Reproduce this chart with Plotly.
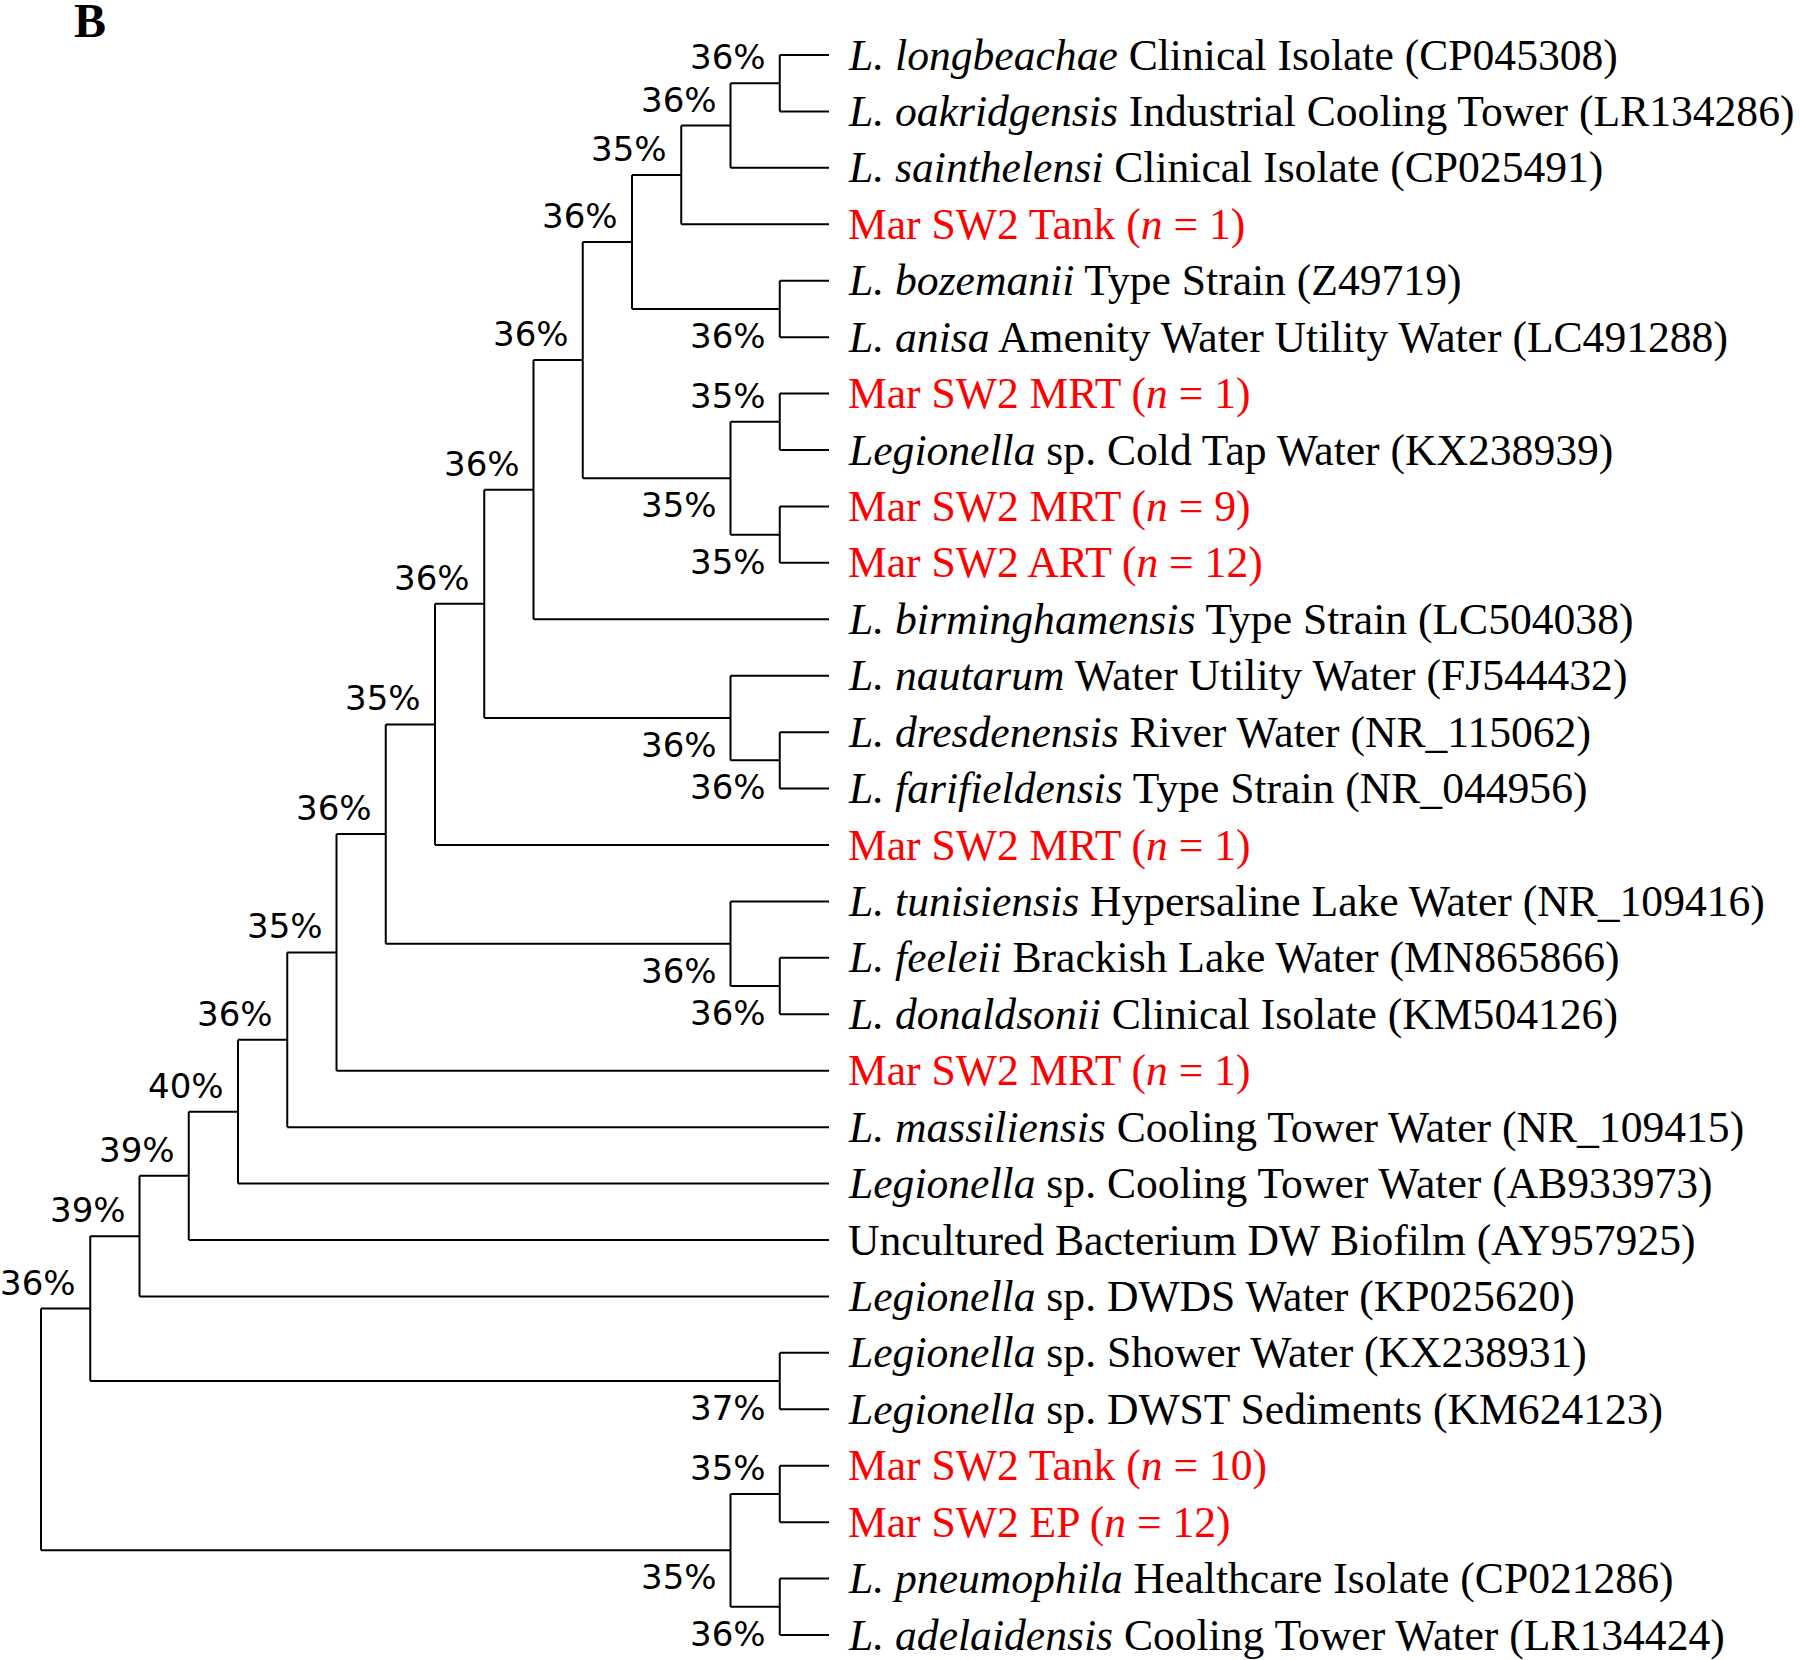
import plotly.graph_objects as go

# ---------------- data ----------------
leaf_labels = [
    "<i>L. longbeachae</i> Clinical Isolate (CP045308)",
    "<i>L. oakridgensis</i> Industrial Cooling Tower (LR134286)",
    "<i>L. sainthelensi</i> Clinical Isolate (CP025491)",
    "Mar SW2 Tank (<i>n</i> = 1)",
    "<i>L. bozemanii</i> Type Strain (Z49719)",
    "<i>L. anisa</i> Amenity Water Utility Water (LC491288)",
    "Mar SW2 MRT (<i>n</i> = 1)",
    "<i>Legionella</i> sp. Cold Tap Water (KX238939)",
    "Mar SW2 MRT (<i>n</i> = 9)",
    "Mar SW2 ART (<i>n</i> = 12)",
    "<i>L. birminghamensis</i> Type Strain (LC504038)",
    "<i>L. nautarum</i> Water Utility Water (FJ544432)",
    "<i>L. dresdenensis</i> River Water (NR_115062)",
    "<i>L. farifieldensis</i> Type Strain (NR_044956)",
    "Mar SW2 MRT (<i>n</i> = 1)",
    "<i>L. tunisiensis</i> Hypersaline Lake Water (NR_109416)",
    "<i>L. feeleii</i> Brackish Lake Water (MN865866)",
    "<i>L. donaldsonii</i> Clinical Isolate (KM504126)",
    "Mar SW2 MRT (<i>n</i> = 1)",
    "<i>L. massiliensis</i> Cooling Tower Water (NR_109415)",
    "<i>Legionella</i> sp. Cooling Tower Water (AB933973)",
    "Uncultured Bacterium DW Biofilm (AY957925)",
    "<i>Legionella</i> sp. DWDS Water (KP025620)",
    "<i>Legionella</i> sp. Shower Water (KX238931)",
    "<i>Legionella</i> sp. DWST Sediments (KM624123)",
    "Mar SW2 Tank (<i>n</i> = 10)",
    "Mar SW2 EP (<i>n</i> = 12)",
    "<i>L. pneumophila</i> Healthcare Isolate (CP021286)",
    "<i>L. adelaidensis</i> Cooling Tower Water (LR134424)",
]
leaf_is_sample = [
    False, False, False, True, False, False, True, False, True, True,
    False, False, False, False, True, False, False, False, True, False,
    False, False, False, False, False, True, True, False, False,
]
# internal nodes: children are "L<i>" (leaf index) or "N<j>" (node index)
node_children = [
    ("L0", "L1"), ("N0", "L2"), ("N1", "L3"), ("L4", "L5"), ("N2", "N3"),
    ("L6", "L7"), ("L8", "L9"), ("N5", "N6"), ("N4", "N7"), ("N8", "L10"),
    ("L12", "L13"), ("L11", "N10"), ("N9", "N11"), ("N12", "L14"),
    ("L16", "L17"), ("L15", "N14"), ("N13", "N15"), ("N16", "L18"),
    ("N17", "L19"), ("N18", "L20"), ("N19", "L21"), ("N20", "L22"),
    ("L23", "L24"), ("N21", "N22"), ("L25", "L26"), ("L27", "L28"),
    ("N24", "N25"), ("N23", "N26"),
]
node_support = [
    36, 36, 35, 36, 36, 35, 35, 35, 36, 36, 36, 36, 36, 35,
    36, 36, 36, 35, 36, 40, 39, 39, 37, 36, 35, 36, 35, None,
]
panel_label = "B"

# ---------------- layout computation ----------------
pos = {}
for i in range(len(leaf_labels)):
    pos["L%d" % i] = (0.0, float(i))
for j, (a, b) in enumerate(node_children):
    xa, ya = pos[a]
    xb, yb = pos[b]
    pos["N%d" % j] = (min(xa, xb) - 1.0, (ya + yb) / 2.0)

xs, ys = [], []
for j, (a, b) in enumerate(node_children):
    xn, yn = pos["N%d" % j]
    xa, ya = pos[a]
    xb, yb = pos[b]
    xs += [xn, xn, None, xn, xa, None, xn, xb, None]
    ys += [ya, yb, None, ya, ya, None, yb, yb, None]

fig = go.Figure()
fig.add_trace(go.Scatter(x=xs, y=ys, mode="lines",
                         line=dict(color="#000000", width=2),
                         hoverinfo="skip", showlegend=False))

annotations = []
for i, lab in enumerate(leaf_labels):
    annotations.append(dict(
        x=0, y=i, text=lab, showarrow=False, xanchor="left", yanchor="middle",
        xshift=17,
        font=dict(family="Liberation Serif", size=43.6,
                  color="#FF0000" if leaf_is_sample[i] else "#000000")))

# parent lookup for support label placement
parent_of = {}
for j, (a, b) in enumerate(node_children):
    parent_of[a] = ("N%d" % j, 0)
    parent_of[b] = ("N%d" % j, 1)

for j, s in enumerate(node_support):
    if s is None:
        continue
    key = "N%d" % j
    xn, yn = pos[key]
    upper = parent_of[key][1] == 0
    annotations.append(dict(
        x=xn, y=yn, text="%d%%" % s, showarrow=False,
        xanchor="right", yanchor="middle", xshift=-12,
        yshift=26 if upper else -27,
        font=dict(family="DejaVu Sans", size=34, color="#000000")))

W, H = 1800, 1660

annotations.append(dict(
    x=90 / W, y=1 - 20 / H, xref="paper", yref="paper",
    xanchor="center", yanchor="middle",
    text="<b>%s</b>" % panel_label, showarrow=False,
    font=dict(family="Liberation Serif", size=48, color="#000000")))

n_leaves = len(leaf_labels)
root_h = -pos["N%d" % (len(node_children) - 1)][0]
px_leaf_x, px_root_x = 829.0, 41.0
step_x = (px_leaf_x - px_root_x) / root_h
x0 = -(px_leaf_x / step_x)
x1 = (W - px_leaf_x) / step_x
px_top, px_bot = 55.0, 1635.0
step_y = (px_bot - px_top) / (n_leaves - 1)
y_top = -px_top / step_y
y_bot = (H - px_top) / step_y

fig.update_layout(
    width=W, height=H,
    margin=dict(l=0, r=0, t=0, b=0),
    paper_bgcolor="white", plot_bgcolor="white",
    xaxis=dict(range=[x0, x1], visible=False, fixedrange=True),
    yaxis=dict(range=[y_bot, y_top], visible=False, fixedrange=True),
    annotations=annotations,
    showlegend=False,
)

fig.write_html("out.html",
               config={"displayModeBar": False, "staticPlot": True},
               post_script="document.body.style.margin='0';"
                           "document.body.style.overflow='hidden';")
